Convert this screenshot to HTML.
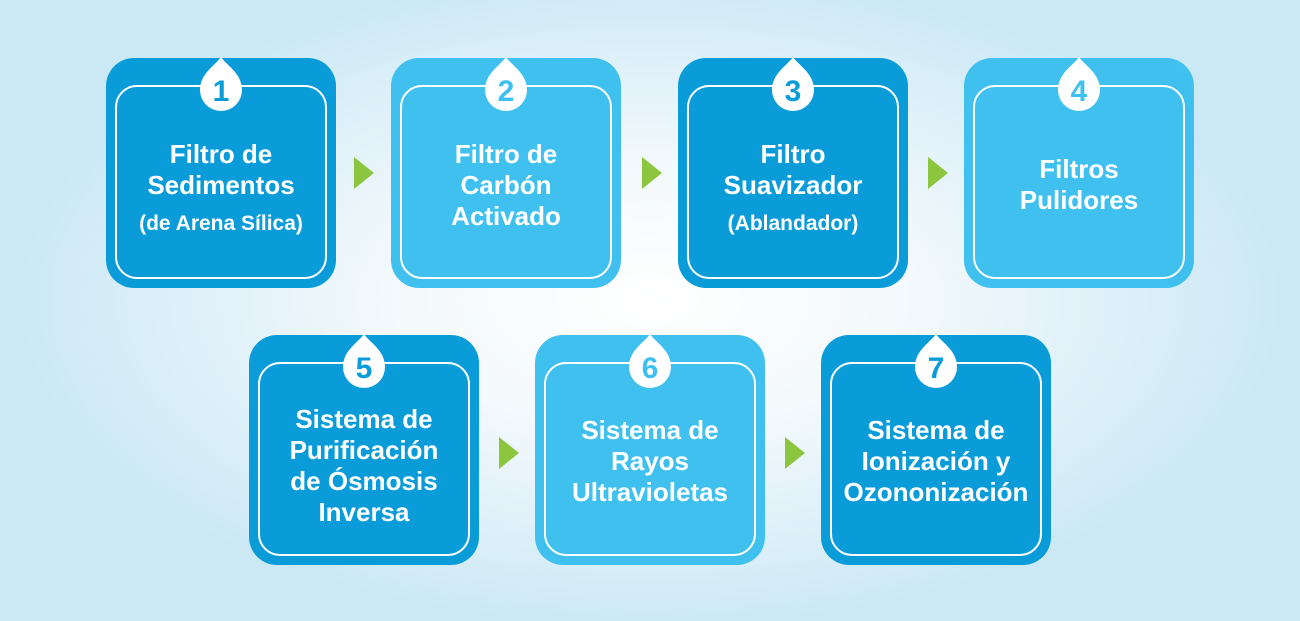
<!DOCTYPE html>
<html><head><meta charset="utf-8"><style>
*{margin:0;padding:0;box-sizing:border-box}
body{width:1300px;height:621px;overflow:hidden;position:relative;font-family:"Liberation Sans",Arial,sans-serif;
background:radial-gradient(ellipse 640px 330px at 650px 300px,#ffffff 0%,#f3f9fc 40%,#d9eef8 80%,#cbe8f5 100%);}
.box{position:absolute;width:230px;height:230px;border-radius:28px}
.d{background:#0a9cd8}.l{background:#3fc0ef}
.inner{position:absolute;left:9px;top:27px;width:212px;height:194px;border:2px solid #fff;border-radius:22px}
.drop{position:absolute;left:90px;top:-1px}
.txt{position:absolute;left:0;width:230px;text-align:center;color:#fff;font-weight:bold;font-size:26px;line-height:31px}
.sm{font-size:21px;line-height:50px;display:block;margin-top:-2px}
.arr{position:absolute;width:0;height:0;border-top:16px solid transparent;border-bottom:16px solid transparent;border-left:20px solid #8cc63f}
</style></head><body>
<svg width="0" height="0" style="position:absolute"><defs><path id="dp" d="M25 0 C30 8 46 16 46 33 A21 21 0 1 1 4 33 C4 16 20 8 25 0Z" fill="#fff"/></defs></svg>

<div class="box d" style="left:106px;top:58px"><div class="inner"></div>
<svg class="drop" width="50" height="60"><use href="#dp"/><text x="25" y="44" text-anchor="middle" font-family="Liberation Sans" font-weight="bold" font-size="30" fill="#0a9cd8">1</text></svg>
<div class="txt" style="top:81px">Filtro de<br>Sedimentos<span class="sm">(de Arena Sílica)</span></div></div>

<div class="box l" style="left:391px;top:58px"><div class="inner"></div>
<svg class="drop" width="50" height="60"><use href="#dp"/><text x="25" y="44" text-anchor="middle" font-family="Liberation Sans" font-weight="bold" font-size="30" fill="#3fc0ef">2</text></svg>
<div class="txt" style="top:81px">Filtro de<br>Carbón<br>Activado</div></div>

<div class="box d" style="left:678px;top:58px"><div class="inner"></div>
<svg class="drop" width="50" height="60"><use href="#dp"/><text x="25" y="44" text-anchor="middle" font-family="Liberation Sans" font-weight="bold" font-size="30" fill="#0a9cd8">3</text></svg>
<div class="txt" style="top:81px">Filtro<br>Suavizador<span class="sm">(Ablandador)</span></div></div>

<div class="box l" style="left:964px;top:58px"><div class="inner"></div>
<svg class="drop" width="50" height="60"><use href="#dp"/><text x="25" y="44" text-anchor="middle" font-family="Liberation Sans" font-weight="bold" font-size="30" fill="#3fc0ef">4</text></svg>
<div class="txt" style="top:96px">Filtros<br>Pulidores</div></div>

<div class="box d" style="left:249px;top:335px"><div class="inner"></div>
<svg class="drop" width="50" height="60"><use href="#dp"/><text x="25" y="44" text-anchor="middle" font-family="Liberation Sans" font-weight="bold" font-size="30" fill="#0a9cd8">5</text></svg>
<div class="txt" style="top:69px">Sistema de<br>Purificación<br>de Ósmosis<br>Inversa</div></div>

<div class="box l" style="left:535px;top:335px"><div class="inner"></div>
<svg class="drop" width="50" height="60"><use href="#dp"/><text x="25" y="44" text-anchor="middle" font-family="Liberation Sans" font-weight="bold" font-size="30" fill="#3fc0ef">6</text></svg>
<div class="txt" style="top:80px">Sistema de<br>Rayos<br>Ultravioletas</div></div>

<div class="box d" style="left:821px;top:335px"><div class="inner"></div>
<svg class="drop" width="50" height="60"><use href="#dp"/><text x="25" y="44" text-anchor="middle" font-family="Liberation Sans" font-weight="bold" font-size="30" fill="#0a9cd8">7</text></svg>
<div class="txt" style="top:80px">Sistema de<br>Ionización y<br>Ozononización</div></div>

<div class="arr" style="left:354px;top:157px"></div>
<div class="arr" style="left:642px;top:157px"></div>
<div class="arr" style="left:928px;top:157px"></div>
<div class="arr" style="left:499px;top:437px"></div>
<div class="arr" style="left:785px;top:437px"></div>
</body></html>
